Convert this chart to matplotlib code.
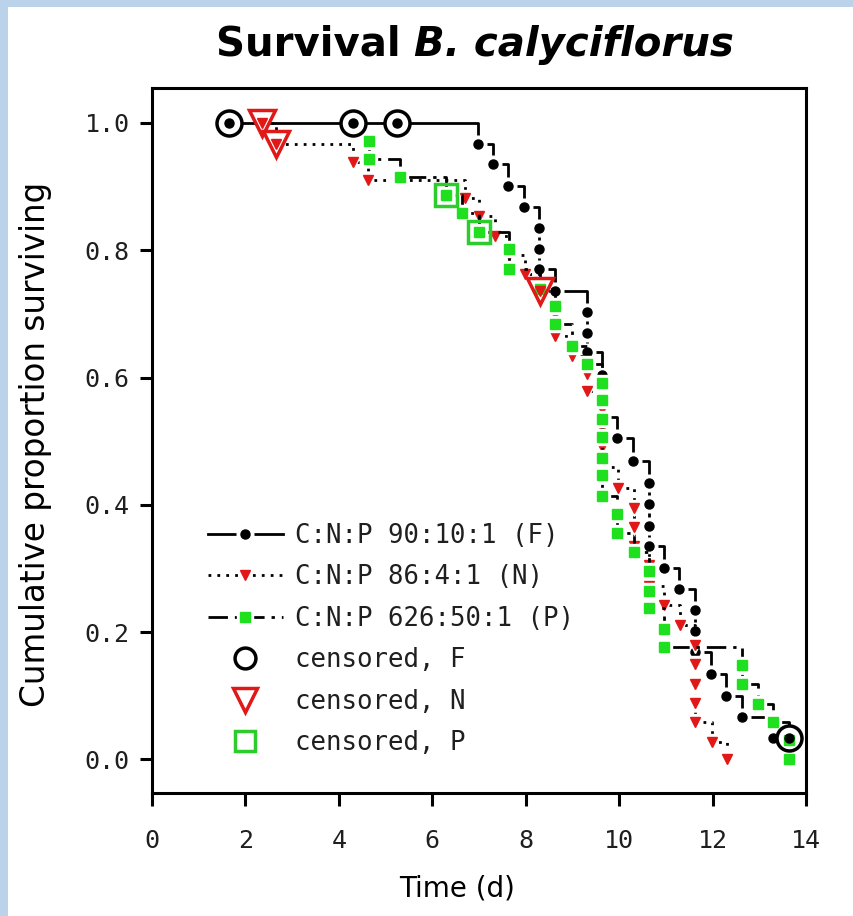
import matplotlib
matplotlib.use("Agg")
import matplotlib.pyplot as plt
from matplotlib.lines import Line2D
from matplotlib.patches import Rectangle
from matplotlib.legend_handler import HandlerTuple

# Kaplan-Meier survival of B. calyciflorus under three food C:N:P ratios
# F: C:N:P 90:10:1
f_time = [6.97, 7.30, 7.63, 7.96, 8.29, 8.29, 8.29, 8.63, 9.31, 9.31, 9.31,
          9.63, 9.63, 9.63, 9.96, 10.29, 10.63, 10.63, 10.63, 10.63, 10.96,
          11.29, 11.63, 11.63, 11.63, 11.96, 12.29, 12.63, 13.29]
f_surv = [0.967, 0.935, 0.901, 0.868, 0.835, 0.802, 0.770, 0.736, 0.703, 0.670,
          0.640, 0.604, 0.571, 0.538, 0.505, 0.468, 0.434, 0.401, 0.367, 0.335,
          0.301, 0.268, 0.234, 0.201, 0.168, 0.134, 0.100, 0.067, 0.033]
f_cens_time = [1.65, 4.30, 5.25, 13.63]
f_cens_surv = [1.0, 1.0, 1.0, 0.033]

# N: C:N:P 86:4:1
n_time = [2.66, 4.31, 4.63, 6.70, 7.00, 7.34, 7.65, 7.99, 8.31, 8.63, 8.63,
          8.99, 9.31, 9.31, 9.63, 9.63, 9.63, 9.63, 9.98, 10.31, 10.31, 10.31,
          10.63, 10.63, 10.97, 11.30, 11.63, 11.63, 11.63, 11.63, 11.63, 11.98,
          12.31]
n_surv = [0.967, 0.938, 0.910, 0.882, 0.854, 0.823, 0.793, 0.762, 0.736, 0.700,
          0.666, 0.634, 0.605, 0.579, 0.550, 0.520, 0.490, 0.460, 0.427, 0.395,
          0.365, 0.335, 0.305, 0.272, 0.242, 0.211, 0.179, 0.150, 0.119, 0.088,
          0.059, 0.027, 0.0]
n_cens_time = [2.35, 2.66, 8.31]
n_cens_surv = [1.0, 0.967, 0.736]

# P: C:N:P 626:50:1
p_time = [4.65, 4.65, 5.31, 6.29, 6.63, 6.99, 7.65, 7.65, 8.31, 8.63, 8.63,
          8.99, 9.31, 9.64, 9.64, 9.64, 9.64, 9.64, 9.64, 9.64, 9.96, 9.96,
          10.31, 10.63, 10.63, 10.63, 10.96, 10.96, 12.62, 12.62, 12.98, 13.30,
          13.63, 13.63]
p_surv = [0.971, 0.943, 0.915, 0.887, 0.859, 0.828, 0.802, 0.770, 0.739, 0.713,
          0.684, 0.650, 0.621, 0.592, 0.564, 0.535, 0.506, 0.474, 0.446, 0.414,
          0.385, 0.356, 0.325, 0.296, 0.265, 0.237, 0.205, 0.176, 0.148, 0.119,
          0.087, 0.059, 0.030, 0.0]
p_cens_time = [6.29, 6.99]
p_cens_surv = [0.887, 0.828]

labels = ["C:N:P 90:10:1 (F)", "C:N:P 86:4:1 (N)", "C:N:P 626:50:1 (P)",
          "censored, F", "censored, N", "censored, P"]
x_ticks = [0, 2, 4, 6, 8, 10, 12, 14]
y_ticks = [0.0, 0.2, 0.4, 0.6, 0.8, 1.0]

RED = "#e01818"
GREEN = "#1ee01e"
GREEN_EDGE = "#2ccc2c"
TXT = "#1f1f1f"
LABEL_FONT = ["DejaVu Sans Mono", "DejaVu Sans"]

# line / marker styles per series
styles = {
    "F": dict(ls="-", marker="o", ms=6.5, color="black", halo=12),
    "N": dict(ls=(0, (1, 2.2)), marker="v", ms=7.5, color=RED, halo=12),
    "P": dict(ls=(0, (7, 2.5, 1.2, 2.5)), marker="s", ms=7, color=GREEN, halo=11),
}

fig = plt.figure(figsize=(8.54, 9.16), dpi=100)
fig.patch.set_facecolor("#bad3ea")
fig.add_artist(Rectangle((8 / 854, 0), 1, 1 - 7 / 916, transform=fig.transFigure,
                         facecolor="white", edgecolor="none", zorder=0))

ax = fig.add_axes([152 / 854, 1 - 793 / 916, (806 - 152) / 854, (793 - 88) / 916])
ax.set_xlim(0, 14)
ax.set_ylim(-0.053, 1.055)


def draw_series(xs, ys, mx, my, st, z):
    """Step line, white clearance round each symbol, then the symbols."""
    ax.plot(xs, ys, drawstyle="steps-post", color="black", lw=2.0, ls=st["ls"],
            zorder=z)
    ax.plot(mx, my, ls="none", marker=st["marker"], ms=st["halo"], mfc="white",
            mec="white", zorder=z + 0.1)
    ax.plot(mx, my, ls="none", marker=st["marker"], ms=st["ms"], mfc=st["color"],
            mec=st["color"], zorder=z + 0.2)


# F curve (starts at first observation, ends at last censored animal)
draw_series([f_cens_time[0]] + f_time + [f_cens_time[-1]],
            [1.0] + f_surv + [f_cens_surv[-1]],
            f_time + f_cens_time, f_surv + f_cens_surv, styles["F"], 2)
# N curve
draw_series([n_cens_time[0]] + n_time, [1.0] + n_surv,
            n_time + n_cens_time, n_surv + n_cens_surv, styles["N"], 3)
# white interior of the censor symbols (covers lines, not P symbols)
ax.plot(f_cens_time, f_cens_surv, ls="none", marker="o", ms=18, mfc="white",
        mec="none", zorder=4.05)
ax.plot(n_cens_time, n_cens_surv, ls="none", marker="v", ms=19, mfc="white",
        mec="none", zorder=4.05)
# P curve
draw_series(p_time, p_surv, p_time, p_surv, styles["P"], 4)

# censored observations: open symbols with the event symbol inside
ax.plot(f_cens_time, f_cens_surv, ls="none", marker="o", ms=18, mfc="none",
        mec="black", mew=2.5, zorder=5)
ax.plot(n_cens_time, n_cens_surv, ls="none", marker="v", ms=19, mfc="none",
        mec=RED, mew=2.5, zorder=5)
ax.plot(p_cens_time, p_cens_surv, ls="none", marker="s", ms=16, mfc="none",
        mec=GREEN_EDGE, mew=2.5, zorder=5)
ax.plot(f_cens_time, f_cens_surv, ls="none", marker="o", ms=6.5, color="black",
        zorder=6)
ax.plot(n_cens_time, n_cens_surv, ls="none", marker="v", ms=7.5, color=RED,
        zorder=6)

# axes styling
for side in ["top", "right", "left", "bottom"]:
    ax.spines[side].set_linewidth(2.2)
ax.tick_params(direction="out", length=9, width=2.2, top=False, right=False,
               labelsize=18, labelcolor=TXT)
ax.tick_params(axis="x", pad=17)
ax.tick_params(axis="y", pad=7)
ax.set_xticks(x_ticks)
ax.set_xticklabels([str(v) for v in x_ticks], family=LABEL_FONT)
ax.set_yticks(y_ticks)
ax.set_yticklabels([f"{v:.1f}" for v in y_ticks], family=LABEL_FONT)
ax.set_xlabel("Time (d)", fontsize=20, color="black")
ax.set_ylabel("Cumulative proportion surviving", fontsize=23.5, color="black")
ax.xaxis.set_label_coords((457 - 152) / 654, (793 - 874) / 705)
ax.yaxis.set_label_coords((52 - 152) / 654, (793 - 444) / 705)

# legend: line, clearance and symbol stacked into one key
handles = []
for key in ["F", "N", "P"]:
    st = styles[key]
    handles.append((
        Line2D([], [], color="black", lw=2.0, ls=st["ls"]),
        Line2D([], [], ls="none", marker=st["marker"], ms=st["halo"],
               mfc="white", mec="white"),
        Line2D([], [], ls="none", marker=st["marker"], ms=st["ms"],
               mfc=st["color"], mec=st["color"]),
    ))
handles += [
    Line2D([], [], ls="none", marker="o", ms=15, mfc="none", mec="black", mew=2.5),
    Line2D([], [], ls="none", marker="v", ms=17, mfc="none", mec=RED, mew=2.5),
    Line2D([], [], ls="none", marker="s", ms=14, mfc="none", mec=GREEN_EDGE,
           mew=2.5),
]
leg = ax.legend(handles, labels, loc="upper left",
                bbox_to_anchor=((190 - 152) / 654, (793 - 505) / 705),
                frameon=False, prop={"family": LABEL_FONT, "size": 18.5},
                handlelength=2.9, handletextpad=0.5, labelspacing=0.6,
                borderpad=0.2, numpoints=1,
                handler_map={tuple: HandlerTuple(ndivide=1, pad=0)})
for t in leg.get_texts():
    t.set_color(TXT)

# title: upright bold part followed by bold-italic species name
fig.canvas.draw()
renderer = fig.canvas.get_renderer()
title_y = 1 - 45 / 916
t1 = fig.text(0, title_y, "Survival ", fontsize=29, fontweight="bold",
              va="center", ha="left")
t2 = fig.text(0, title_y, "B. calyciflorus", fontsize=29, fontweight="bold",
              fontstyle="italic", va="center", ha="left")
w1 = t1.get_window_extent(renderer).width / fig.bbox.width
w2 = t2.get_window_extent(renderer).width / fig.bbox.width
cx = 475 / 854
x0 = cx - (w1 + w2) / 2
t1.set_x(x0)
t2.set_x(x0 + w1)

fig.savefig("out.png", dpi=100, facecolor=fig.get_facecolor())
